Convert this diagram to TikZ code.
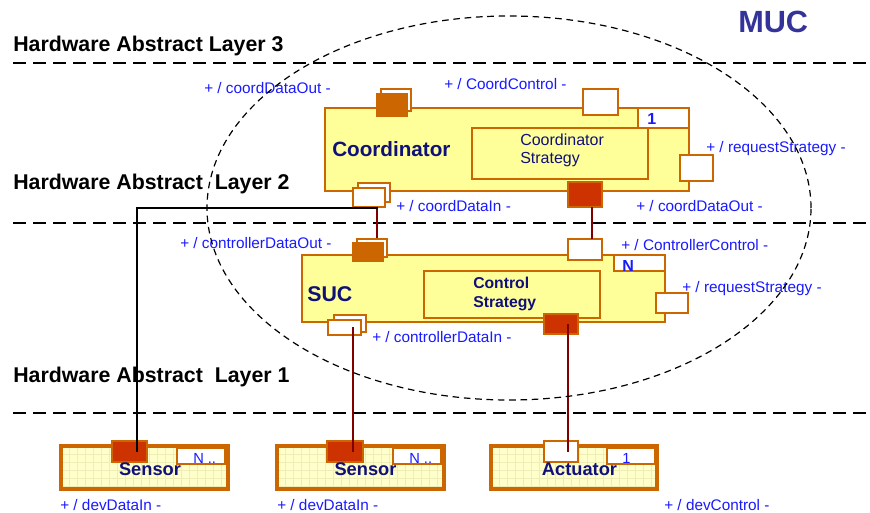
\documentclass[tikz,border=0pt]{standalone}
\usepackage{fontspec}
\setmainfont{Liberation Sans}
\definecolor{orng}{HTML}{CC6600}
\definecolor{rust}{HTML}{CC3300}
\definecolor{yel}{HTML}{FFFF99}
\definecolor{pale}{HTML}{FFFFCC}
\definecolor{navy}{HTML}{10107A}
\definecolor{lblue}{HTML}{1A1AFF}
\definecolor{mucc}{HTML}{333399}
\definecolor{dred}{HTML}{800000}
\definecolor{gridc}{HTML}{EDEDB5}
\begin{document}
\begin{tikzpicture}[x=0.75pt,y=-0.75pt,
  sz/.style 2 args={minimum width=#1*0.75pt, minimum height=#2*0.75pt},
  comp/.style={draw=orng, line width=1.5pt, fill=yel, inner sep=0pt, outer sep=0pt},
  devbox/.style={fill=pale, inner sep=0pt, outer sep=0pt},
  port/.style={draw=orng, line width=1.5pt, fill=white, inner sep=0pt, outer sep=0pt},
  portA/.style={port, fill=orng},
  portB/.style={port, fill=rust},
  multbox/.style={draw=orng, line width=1.3pt, fill=white, inner sep=0pt, outer sep=0pt},
  lbl/.style={text=lblue, font=\fontsize{11.5}{13}\selectfont, anchor=base west, inner sep=0pt},
  layertxt/.style={font=\bfseries\fontsize{16}{18}\selectfont, anchor=base west, inner sep=0pt},
  titletxt/.style={text=navy, font=\bfseries\fontsize{15.5}{18}\selectfont, anchor=base west, inner sep=0pt},
  strattxt/.style={text=navy, font=\fontsize{12}{14}\selectfont, anchor=base west, inner sep=0pt},
  stratbold/.style={text=navy, font=\bfseries\fontsize{11.8}{14}\selectfont, anchor=base west, inner sep=0pt},
  devtxt/.style={text=navy, font=\bfseries\fontsize{13.7}{16}\selectfont, anchor=base, inner sep=0pt},
  multtxt/.style={text=lblue, font=\bfseries\fontsize{12}{14}\selectfont, anchor=base west, inner sep=0pt},
  multsm/.style={text=lblue, font=\fontsize{11}{13}\selectfont, anchor=base west, inner sep=0pt},
  hline/.style={line width=1.6pt, dash pattern=on 9.75pt off 5.25pt},
  conn/.style={draw=dred, line width=1.2pt},
  blk/.style={draw=black, line width=1.2pt},
  devborder/.style={draw=orng, line width=2.6pt}
]
\fill[white] (0,0) rectangle (870,513);
\useasboundingbox (0,0) rectangle (870,513);

% layer separators and labels
\coordinate (l3a) at (13,63);  \coordinate (l3b) at (870,63);
\coordinate (l2a) at (13,223); \coordinate (l2b) at (870,223);
\coordinate (l1a) at (13,413); \coordinate (l1b) at (870,413);
\draw[hline] (l3a) -- (l3b);
\draw[hline] (l2a) -- (l2b);
\draw[hline] (l1a) -- (l1b);
\node[layertxt] (lay3) at (13,52) {Hardware Abstract Layer 3};
\node[layertxt] (lay2) at (13,190) {Hardware Abstract\ \ Layer 2};
\node[layertxt] (lay1) at (13,382) {Hardware Abstract\ \ Layer 1};
\node[text=mucc, font=\bfseries\fontsize{23}{26}\selectfont, anchor=base west, inner sep=0pt] (muc) at (738,33) {MUC};

% Coordinator
\node[comp, sz={364}{83}] (coord) at (507,149.5) {};
\node[comp, sz={176}{51}] (cstrat) at (560,153.5) {};
\node[multbox, sz={51}{20}] (cmult) at (663.5,118) {};
\node[multtxt] (cmultt) at (647,125) {1};
\node[titletxt] (ctitle) at (332,157) {Coordinator};
\node[strattxt] (cs1) at (520,146) {Coordinator};
\node[strattxt] (cs2) at (520,164) {Strategy};
\node[port, sz={30}{22}] (cdoB) at (396,100) {};
\node[portA, sz={30}{22}] (cdo) at (392,105) {};
\node[port, sz={35}{26}] (ccc) at (600.5,102) {};
\node[port, sz={33}{26}] (crs) at (696.5,168) {};
\node[port, sz={32}{19}] (cdiB) at (374,192.5) {};
\node[port, sz={32}{19}] (cdi) at (369,197.5) {};
\node[portB, sz={34}{25}] (cdo2) at (585,194.5) {};

% SUC
\node[comp, sz={363}{67}] (suc) at (483.5,288.5) {};
\node[comp, sz={176}{47}] (sstrat) at (512,294.5) {};
\node[multbox, sz={51}{16}] (smult) at (639.5,263) {};
\node[multtxt] (smultt) at (622,271) {N};
\node[titletxt, font=\bfseries\fontsize{16}{18}\selectfont] (stitle) at (307,301) {SUC};
\node[stratbold] (ss1) at (473,288) {Control};
\node[stratbold] (ss2) at (473,307) {Strategy};

% connectors running under ports
\coordinate (j1) at (377,208);
\coordinate (j2) at (137,208);
\coordinate (k1) at (592,0);
\coordinate (k2) at (353,0);
\coordinate (k3) at (568,0);
\draw[conn] (j1) -- (j1 |- 0,240);

\node[port, sz={30}{18}] (sdoB) at (372,248) {};
\node[portA, sz={30}{18}] (sdo) at (368,252) {};
\node[port, sz={34}{21}] (scc) at (585,249.5) {};
\node[port, sz={32}{20}] (srs) at (672,303) {};
\node[port, sz={32}{17}] (sdiB) at (350,323.5) {};
\node[port, sz={33}{15}] (sdi) at (344.5,327) {};
\node[portB, sz={34}{20}] (sbo) at (561,324) {};

\draw[conn] (cdo2.south -| k1) -- (scc.north -| k1);

% devices
\node[devbox, sz={167}{43}] (sen1) at (144.5,467.5) {};
\node[devbox, sz={167}{43}] (sen2) at (360.5,467.5) {};
\node[devbox, sz={166}{43}] (act) at (574,467.5) {};
\foreach \b in {sen1,sen2,act} {
  \begin{scope}
    \clip (\b.south west) rectangle (\b.north east);
    \foreach \i in {1,...,21}
      \draw[gridc, line width=0.4pt] ([xshift=\i*6pt]\b.north west) -- ([xshift=\i*6pt]\b.south west);
    \foreach \j in {1,...,5}
      \draw[gridc, line width=0.4pt] ([yshift=-\j*6pt]\b.north west) -- ([yshift=-\j*6pt]\b.north east);
  \end{scope}
  \draw[devborder] (\b.south west) rectangle (\b.north east);
}
\node[multbox, sz={48}{16}] (m1) at (201,456) {};
\node[multbox, sz={48}{16}] (m2) at (417,456) {};
\node[multbox, sz={48}{16}] (m3) at (631,456) {};
\node[portB, sz={35}{21}] (p1) at (129.5,451.5) {};
\node[portB, sz={36}{21}] (p2) at (345,451.5) {};
\node[port, sz={34}{21}] (p3) at (561,451.5) {};
\node[multsm] (m1t) at (193,463) {N ..};
\node[multsm] (m2t) at (409,463) {N ..};
\node[multsm] (m3t) at (622,463) {1};
\node[devtxt] (sen1t) at (150,475) {Sensor};
\node[devtxt] (sen2t) at (365.5,475) {Sensor};
\node[devtxt] (actt) at (579.5,475) {Actuator};

% connectors on top
\draw[blk] (cdi.south -| j1) -- (j1) -- (j2) -- (j2 |- p1.center);
\draw[conn] (sdi.center -| k2) -- (k2 |- p2.center);
\draw[conn] (sbo.center -| k3) -- (k3 |- p3.center);

% port labels
\node[lbl] (t1) at (204,94) {+ / coordDataOut -};
\node[lbl] (t2) at (444,90) {+ / CoordControl -};
\node[lbl] (t3) at (706,153) {+ / requestStrategy -};
\node[lbl] (t4) at (396,212) {+ / coordDataIn -};
\node[lbl] (t5) at (636,212) {+ / coordDataOut -};
\node[lbl] (t6) at (180,248) {+ / controllerDataOut -};
\node[lbl] (t7) at (621,250) {+ / ControllerControl -};
\node[lbl] (t8) at (682,292) {+ / requestStrategy -};
\node[lbl] (t9) at (372,342) {+ / controllerDataIn -};
\node[lbl] (t10) at (60,510) {+ / devDataIn -};
\node[lbl] (t11) at (277,510) {+ / devDataIn -};
\node[lbl] (t12) at (664,510) {+ / devControl -};

% MUC boundary
\draw[line width=0.9pt, dash pattern=on 5pt off 3.5pt] (509,208) ellipse [x radius=226.5pt, y radius=144pt];
\end{tikzpicture}
\end{document}
